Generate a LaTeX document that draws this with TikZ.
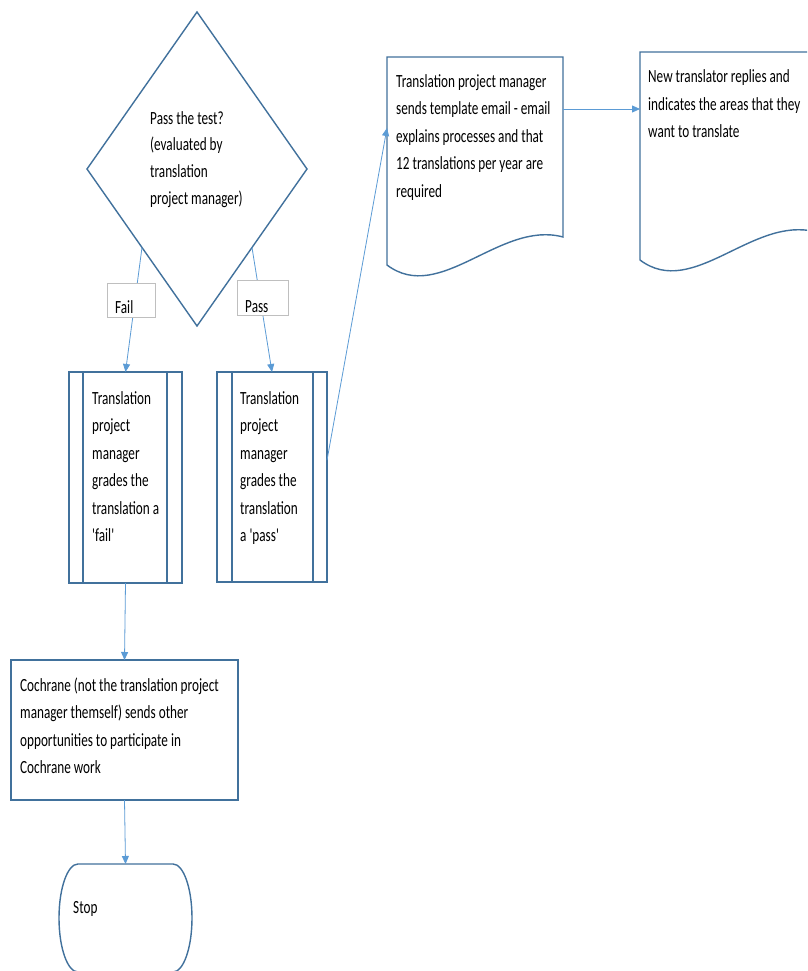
\documentclass[tikz,border=0pt]{standalone}
\usepackage{fontspec}
\setmainfont{Carlito}[FakeStretch=0.71,Ligatures=TeXOff]
\usetikzlibrary{arrows.meta,shapes.geometric,calc}
\definecolor{boxblue}{HTML}{41719C}
\definecolor{linkblue}{HTML}{5B9BD5}
\definecolor{lblgray}{HTML}{BFBFBF}
\begin{document}
\begin{tikzpicture}[x=1pt,y=-1pt,
  shapeline/.style={draw=boxblue,line width=1.4pt},
  conn/.style={draw=linkblue,line width=0.8pt,-{Triangle[length=8pt,width=7pt]}},
  lbl/.style={draw=lblgray,line width=0.8pt,fill=white,inner sep=0pt,outer sep=0pt},
  txt/.style={inner sep=0pt,anchor=base west,align=left,font=\fontsize{18.6}{27.5}\selectfont},
  area/.style={inner sep=0pt,outer sep=0pt,anchor=north west}]
\clip (0,0) rectangle (807,971);
\fill[white] (0,0) rectangle (807,971);

% decision (text anchored at the baseline of its last line)
\node[diamond,shapeline,minimum width=220pt,minimum height=314pt,inner sep=0pt,outer sep=0pt] (dec) at (197,169) {};
\node[txt,font=\fontsize{18.6}{26.8}\selectfont] (dectext) at (150,204.5) {Pass the test?\\(evaluated by\\translation\\project manager)};

% predefined processes
\node[area,shapeline,minimum width=113pt,minimum height=211pt] (fail) at (69,372) {};
\draw[shapeline] ($(fail.north west)+(14,0)$) -- ($(fail.south west)+(14,0)$);
\draw[shapeline] ($(fail.north east)+(-15,0)$) -- ($(fail.south east)+(-15,0)$);
\node[txt] (failtext) at (92,541.5) {Translation\\project\\manager\\grades the\\translation a\\'fail'};

\node[area,shapeline,minimum width=110pt,minimum height=210pt] (pass) at (217,372) {};
\draw[shapeline] ($(pass.north west)+(15,0)$) -- ($(pass.south west)+(15,0)$);
\draw[shapeline] ($(pass.north east)+(-14,0)$) -- ($(pass.south east)+(-14,0)$);
\node[txt] (passtext) at (240,541.5) {Translation\\project\\manager\\grades the\\translation\\a 'pass'};

% documents
\node[area,minimum width=176pt,minimum height=208pt] (email) at (387,57) {};
\draw[shapeline] (387,57) -- (563,57) -- (563,237) .. controls (500,220) and (440,305) .. (387,265) -- cycle;
\node[txt] (emailtext) at (396,197) {Translation project manager\\sends template email - email\\explains processes and that\\12 translations per year are\\required};

\node[area,minimum width=176pt,minimum height=208pt] (newt) at (640,52) {};
\draw[shapeline] (640,52) -- (816,52) -- (816,232) .. controls (753,215) and (693,300) .. (640,260) -- cycle;
\node[txt] (newttext) at (648,138) {New translator replies and\\indicates the areas that they\\want to translate};

% process
\node[area,shapeline,minimum width=227pt,minimum height=140pt] (coch) at (11,660) {};
\node[txt] (cochtext) at (20,773.5) {Cochrane (not the translation project\\manager themself) sends other\\opportunities to participate in\\Cochrane work};

% terminator
\node[area,minimum width=133pt,minimum height=108pt] (stop) at (59,864) {};
\draw[shapeline] (78,864) -- (173,864) arc[start angle=-90,end angle=90,x radius=19,y radius=54]
  -- (78,972) arc[start angle=90,end angle=270,x radius=19,y radius=54] -- cycle;
\node[txt] (stoptext) at (73,913) {Stop};

% connectors
\draw[conn] (dec.south west) -- (fail.north);
\draw[conn] (dec.south east) -- (pass.north);
\draw[conn] ($(pass.north east)!0.42!(pass.south east)$) -- ($(email.north west)+(0,71)$);
\draw[conn] ($(email.north east)+(0,52)$) -- ($(newt.north west)+(0,57)$);
\draw[conn] (fail.south) -- (coch.north);
\draw[conn] (coch.south) -- (stop.north);

% labels
\node[lbl,minimum width=48pt,minimum height=34pt] (faillbl) at (131,300) {};
\node[txt] (failword) at (115,313) {Fail};
\node[lbl,minimum width=51pt,minimum height=35pt] (passlbl) at (262.5,297.5) {};
\node[txt] (password) at (245,312) {Pass};
\end{tikzpicture}
\end{document}
